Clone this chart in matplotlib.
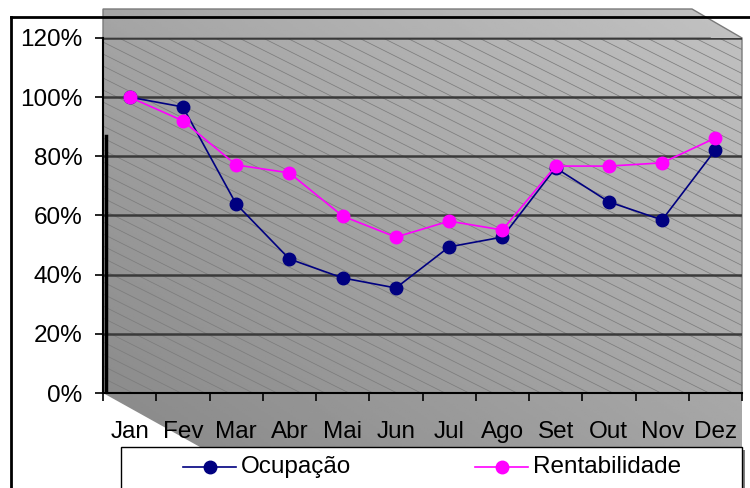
import numpy as np
import matplotlib
matplotlib.use("Agg")
import matplotlib.pyplot as plt
from matplotlib.patches import Polygon, Rectangle

plt.rcParams['font.family'] = ['Liberation Sans', 'DejaVu Sans']

# data
meses = ["Jan", "Fev", "Mar", "Abr", "Mai", "Jun", "Jul", "Ago", "Set", "Out", "Nov", "Dez"]
ocupacao = [1.00, 0.967, 0.639, 0.453, 0.389, 0.355, 0.494, 0.527, 0.761, 0.646, 0.585, 0.822]
rentabilidade = [1.00, 0.920, 0.771, 0.744, 0.598, 0.527, 0.581, 0.551, 0.767, 0.767, 0.778, 0.862]
series_names = ["Ocupação", "Rentabilidade"]
series_colors = ["#000080", "#ff00ff"]
yticks = [0, 0.2, 0.4, 0.6, 0.8, 1.0, 1.2]

FS = 17.5
W, H = 750, 488
fig = plt.figure(figsize=(W / 100, H / 100), dpi=100)

# background layer in pixel coordinates
bg = fig.add_axes([0, 0, 1, 1])
bg.set_xlim(0, W)
bg.set_ylim(H, 0)
bg.axis("off")

L, R, T, B = 103, 742, 38, 393

def gradient(clip):
    xs = np.linspace(0, 1, 200)
    ys = np.linspace(0, 1, 200)
    u, v = np.meshgrid(xs, ys)
    t = 0.5 * (u + v)
    img = (136 + 58 * t) / 255.0
    im = bg.imshow(img, cmap="gray", vmin=0, vmax=1, origin="lower",
                   extent=(L, R, 447, 8), aspect="auto", zorder=1)
    im.set_clip_path(clip)

wall = Polygon([(L, 9), (692, 9), (R, T), (R, B), (L, B)], closed=True,
               facecolor="none", edgecolor="#7a7a7a", lw=1, zorder=3)
bg.add_patch(wall)
gradient(wall)

floor = Polygon([(L, B), (R, B), (R, 447), (200, 447)], closed=True,
                facecolor="none", edgecolor="none", zorder=3)
bg.add_patch(floor)
gradient(floor)

# diagonal hatch on the back wall
hatch_clip = Rectangle((L, T), R - L, B - T, transform=bg.transData)
for c in np.arange(L - 800, R + 24, 24):
    xs = np.array([c, c + 800])
    ln, = bg.plot(xs, T + 0.5 * (xs - c), color="#7c7c7c", lw=0.55, zorder=2)
    ln.set_clip_path(hatch_clip)

# top band line
bg.plot([L, 710], [T, T], color="#7a7a7a", lw=1.2, zorder=3)

# outer chart border
bg.plot([11, 11], [17, H], color="black", lw=2, zorder=10)
bg.plot([11, W], [17, 17], color="black", lw=2, zorder=10)

# data axes
ax = fig.add_axes([L / W, (H - B) / H, (R - L) / W, (B - T) / H])
ax.patch.set_alpha(0)
ax.set_xlim(-0.5, 11.5)
ax.set_ylim(0, 1.2)
for s in ["top", "right"]:
    ax.spines[s].set_visible(False)
ax.spines["left"].set_linewidth(1.5)
ax.spines["bottom"].set_linewidth(1.5)

ax.set_yticks(yticks)
ax.set_yticklabels([f"{int(round(v * 100))}%" for v in yticks], fontsize=FS)
ax.tick_params(axis="y", length=6, width=1.2, pad=9)
ax.yaxis.grid(True, color="#3a3a3a", lw=1.8)
ax.set_axisbelow(True)

x = np.arange(len(meses))
ax.set_xticks(np.arange(-0.5, 12, 1))
ax.set_xticklabels([])
ax.set_xticks(x, minor=True)
ax.set_xticklabels(meses, minor=True, fontsize=FS)
ax.tick_params(axis="x", which="major", length=6, width=1.2)
ax.tick_params(axis="x", which="minor", length=0, pad=20)

ax.plot([-0.45, -0.45], [0, 0.87], color="black", lw=2.5, zorder=4)

for vals, name, col in zip([ocupacao, rentabilidade], series_names, series_colors):
    ax.plot(x, vals, color=col, lw=1.2, marker="o", markersize=9,
            markerfacecolor=col, markeredgecolor=col, label=name, zorder=5)

# legend box drawn in pixel space
bg.add_patch(Rectangle((124, 450), R - 121, 60, facecolor="#808080",
                       edgecolor="none", zorder=6))
bg.add_patch(Rectangle((121, 447), R - 121, 60, facecolor="white",
                       edgecolor="black", lw=1, zorder=7))
for (x0, name, col) in zip([183, 475], series_names, series_colors):
    bg.plot([x0, x0 + 53], [467, 467], color=col, lw=1.2, zorder=8)
    bg.plot([x0 + 26.5], [467], marker="o", markersize=9, color=col, zorder=8)
    bg.text(x0 + 58, 467, name, fontsize=FS, va="center", ha="left", zorder=8)

fig.savefig("out.png", dpi=100)
